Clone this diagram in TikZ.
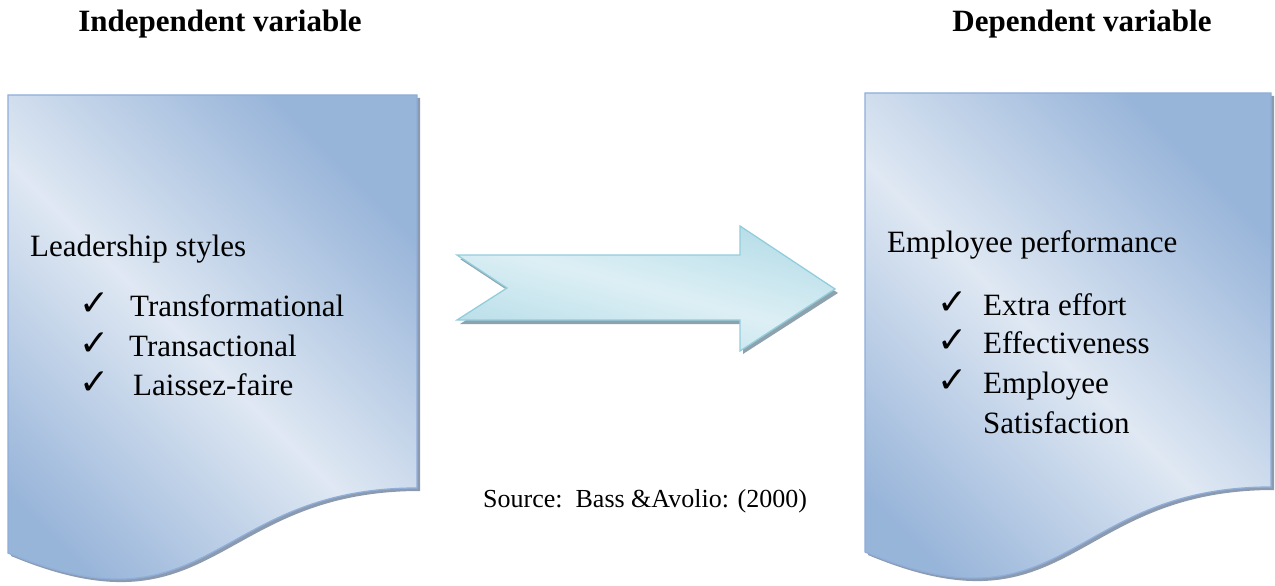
\documentclass[tikz,border=0pt]{standalone}
\usepackage{fontspec}
\setmainfont{Liberation Serif}
\newfontfamily\tickfont{DejaVu Sans}
\usepackage{tikz}
\definecolor{docdark}{HTML}{97B4D9}
\definecolor{doclight}{HTML}{DFE8F3}
\definecolor{docline}{HTML}{8FAEDA}
\definecolor{docshadow}{HTML}{8B9AAF}
\definecolor{arrowmid}{HTML}{DDEFF5}
\definecolor{arrowedge}{HTML}{B6DDE8}
\definecolor{arrowline}{HTML}{92CDDC}
\definecolor{arrowshadow}{HTML}{8EA2AD}
\newcommand{\tick}{{\tickfont\fontsize{36}{36}\selectfont ✓}}

\begin{document}
\begin{tikzpicture}[x=1pt,y=-1pt,
  doc/.style={draw=docline,line width=1.3pt,top color=docdark,bottom color=docdark,middle color=doclight,shading angle=-45},
  docshade/.style={fill=docshadow},
  txt/.style={anchor=base west,inner sep=0pt,font=\fontsize{31}{38}\selectfont},
  head/.style={anchor=base,inner sep=0pt,font=\fontsize{31}{38}\selectfont\bfseries}]
  \useasboundingbox (0,0) rectangle (1275,586);

  \node[head](indep) at (220,32){Independent variable};
  \node[head](dep) at (1082,32){Dependent variable};

  \fill[docshade] (11,98) -- (420,98) -- (420,491) .. controls (215.5,491) and (215.5,641) .. (11,556) -- cycle;
  \path[doc] (8,95) -- (417,95) -- (417,488) .. controls (212.5,488) and (212.5,638) .. (8,553) -- cycle;

  \fill[docshade] (868,96) -- (1274,96) -- (1274,490) .. controls (1071,490) and (1071,640) .. (868,555) -- cycle;
  \path[doc] (865,93) -- (1271,93) -- (1271,487) .. controls (1068,487) and (1068,637) .. (865,552) -- cycle;

  \fill[arrowshadow] (460,259) -- (743,259) -- (743,230) -- (838,293) -- (743,354) -- (743,324) -- (460,324) -- (510,292) -- cycle;
  \path[draw=arrowline,line width=1.3pt,top color=arrowedge,bottom color=arrowedge,middle color=arrowmid,shading angle=-15]
    (457,255) -- (740,255) -- (740,226) -- (835,289) -- (740,351) -- (740,320) -- (457,320) -- (507,288) -- cycle;

  \node[txt](leader) at (30,256){Leadership styles};
  \node[txt](chk1) at (79,315){\tick};
  \node[txt](transf) at (130,316){Transformational};
  \node[txt](chk2) at (79,355){\tick};
  \node[txt](transa) at (129,356){Transactional};
  \node[txt](chk3) at (79,394){\tick};
  \node[txt](laissez) at (133,395){Laissez-faire};

  \node[txt](perf) at (887,252){Employee performance};
  \node[txt](chk4) at (937,314){\tick};
  \node[txt](extra) at (983,315){Extra effort};
  \node[txt](chk5) at (937,352){\tick};
  \node[txt](effect) at (983,353){Effectiveness};
  \node[txt](chk6) at (937,392){\tick};
  \node[txt](empl) at (983,393){Employee};
  \node[txt](satis) at (983,433){Satisfaction};

  \node[txt,font=\fontsize{26}{30}\selectfont](source) at (483,507){Source:\ \ Bass \&Avolio: (2000)};
\end{tikzpicture}
\end{document}
